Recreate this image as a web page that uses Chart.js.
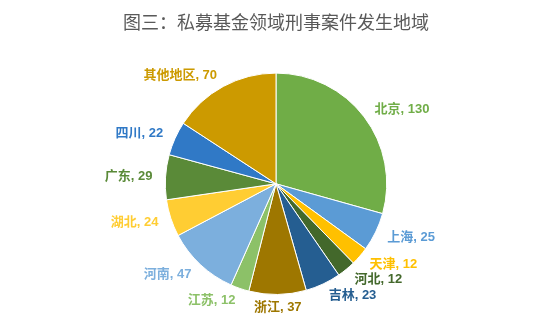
<!DOCTYPE html>
<html>
<head>
<meta charset="utf-8">
<script src="https://cdn.jsdelivr.net/npm/chart.js@4"></script>
<style>
  html, body { margin: 0; padding: 0; background: #fff; }
  #wrap { width: 552px; height: 324px; }
</style>
</head>
<body>
<div id="wrap"><canvas id="pie-chart"></canvas></div>
<script>
const titleText = '图三：私募基金领域刑事案件发生地域';
const regions = ['北京', '上海', '天津', '河北', '吉林', '浙江', '江苏', '河南', '湖北', '广东', '四川', '其他地区'];
const cases = [130, 25, 12, 12, 23, 37, 12, 47, 24, 29, 22, 70];
const sliceColors = ['#70AD47', '#5B9BD5', '#FFC000', '#43682B', '#255E91', '#9E7700',
                     '#8CC168', '#7CAFDD', '#FFCD33', '#5A8A38', '#3079C6', '#CC9A00'];

// draws "name, value" outside each slice, in the slice colour
const outsideLabels = {
    id: 'outsideLabels',
    afterDatasetsDraw(chart) {
        const ctx = chart.ctx;
        const arcs = chart.getDatasetMeta(0).data;
        ctx.save();
        ctx.font = 'bold 13px "Liberation Sans", "Noto Sans CJK SC", sans-serif';
        ctx.textBaseline = 'middle';
        arcs.forEach(function(arc, i) {
            const p = arc.getProps(['x', 'y', 'startAngle', 'endAngle', 'outerRadius'], true);
            const mid = (p.startAngle + p.endAngle) / 2;
            const r = p.outerRadius + 13;
            const c = Math.cos(mid);
            const x = p.x + c * r;
            const y = p.y + Math.sin(mid) * r;
            ctx.textAlign = c > 0.2 ? 'left' : (c < -0.2 ? 'right' : 'center');
            ctx.fillStyle = sliceColors[i];
            ctx.fillText(regions[i] + ', ' + cases[i], x, y);
        });
        ctx.restore();
    }
};

window.onload = function() {
    const ctx = document.getElementById('pie-chart').getContext('2d');
    new Chart(ctx, {
        type: 'pie',
        data: {
            labels: regions,
            datasets: [{
                data: cases,
                backgroundColor: sliceColors,
                borderColor: '#ffffff',
                borderWidth: 1
            }]
        },
        options: {
            responsive: true,
            maintainAspectRatio: false,
            animation: false,
            layout: { padding: { top: 0, bottom: 29, left: 0, right: 0 } },
            plugins: {
                legend: { display: false },
                tooltip: { enabled: false },
                title: {
                    display: true,
                    text: titleText,
                    color: '#595959',
                    font: { family: '"Noto Sans CJK SC", sans-serif', size: 18, weight: 'normal' },
                    padding: { top: 11, bottom: 40 }
                }
            }
        },
        plugins: [outsideLabels]
    });
};
</script>
</body>
</html>
